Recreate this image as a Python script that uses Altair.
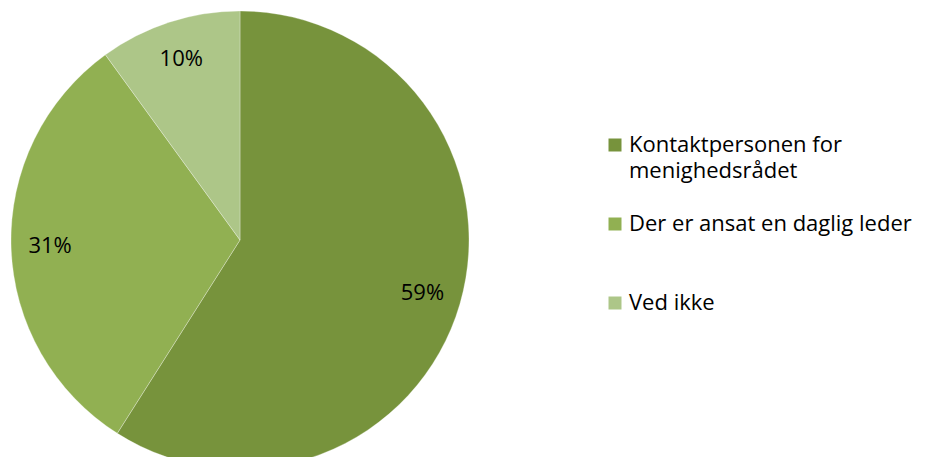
import altair as alt
import pandas as pd

categories = ["Kontaktpersonen for\nmenighedsrådet", "Der er ansat en daglig leder", "Ved ikke"]
values = [59, 31, 10]
labels = ["59%", "31%", "10%"]
order = [1, 2, 3]
colors = ["#77933C", "#91B052", "#ADC688"]

df = pd.DataFrame({"cat": categories, "val": values, "lab": labels, "ord": order})

FONT = "Open Sans"

base = alt.Chart(df).encode(
    theta=alt.Theta("val:Q", stack=True),
    order=alt.Order("ord:Q"),
)

pie = base.mark_arc(outerRadius=229, stroke="#ffffff", strokeWidth=0.3).encode(
    x=alt.value(232),
    y=alt.value(232),
    color=alt.Color(
        "cat:N",
        scale=alt.Scale(domain=categories, range=colors),
        legend=alt.Legend(
            title=None,
            orient="none",
            legendX=596,
            legendY=126,
            symbolType="square",
            symbolSize=169,
            symbolStrokeWidth=0,
            labelFont=FONT,
            labelFontSize=22,
            labelColor="#000000",
            labelOffset=3,
            labelLimit=400,
            labelExpr="indexof(datum.label, '\\n') >= 0 ? split(datum.label, '\\n') : [datum.label, '']",
            rowPadding=31,
            padding=0,
        ),
    ),
)

text = base.mark_text(radius=190, font=FONT, fontSize=22, color="#000000").encode(
    x=alt.value(232),
    y=alt.value(232),
    text="lab:N",
)

chart = (
    alt.layer(pie, text)
    .properties(width=910, height=449, padding=0, autosize=alt.AutoSizeParams(type="none"))
    .configure(
        style={"guide-label": {"lineHeight": 26}},
        view=alt.ViewConfig(stroke="transparent"),
    )
)

chart.save("out.html", embed_options={"renderer": "svg", "actions": False})
